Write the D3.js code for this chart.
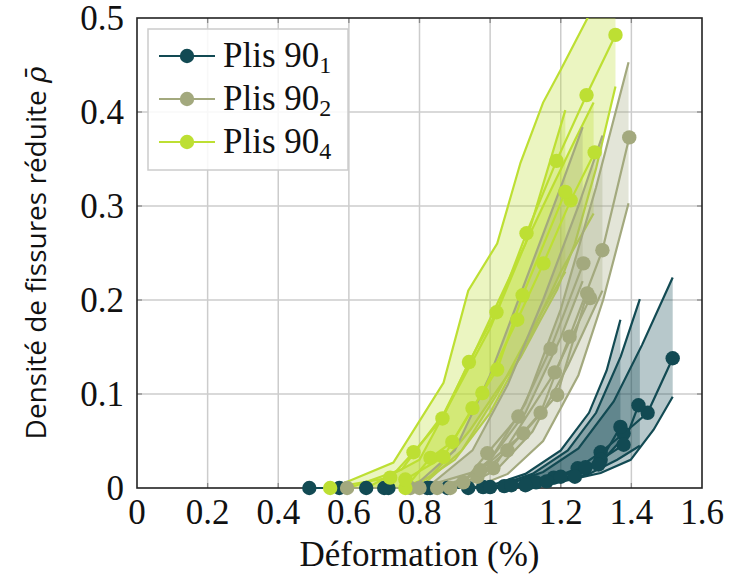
<!DOCTYPE html>
<html>
<head>
<meta charset="utf-8">
<script src="https://cdn.jsdelivr.net/npm/d3@7"></script>
<style>
  body { margin: 0; background: #fff; }
  text { fill: #111; }
</style>
</head>
<body>
<div class="chart"></div>
<script>
// ---- data (deformation %, reduced crack density) ----
var xTicks = [0, 0.2, 0.4, 0.6, 0.8, 1, 1.2, 1.4, 1.6];
var yTicks = [0, 0.1, 0.2, 0.3, 0.4, 0.5];
var legendNames = ["1", "2", "4"];   // Plis 90_n

// Plis 90_1 : envelopes (upper / lower) per specimen
var p1BandA_up = [[0.98,0],[1.1,0.015],[1.2,0.04],[1.28,0.08],[1.33,0.125],[1.369,0.179]];
var p1BandA_lo = [[1.0,0],[1.15,0.005],[1.25,0.015],[1.32,0.03],[1.369,0.05]];
var p1BandB_up = [[1.0,0],[1.12,0.015],[1.22,0.04],[1.3,0.08],[1.37,0.14],[1.424,0.201]];
var p1BandB_lo = [[1.02,0],[1.18,0.006],[1.28,0.015],[1.36,0.03],[1.424,0.045]];
var p1BandC_up = [[1.02,0],[1.15,0.017],[1.25,0.042],[1.35,0.092],[1.43,0.152],[1.517,0.224]];
var p1BandC_lo = [[1.05,0],[1.18,0.005],[1.313,0.016],[1.398,0.03],[1.463,0.062],[1.517,0.097]];
// Plis 90_1 : measured points
var p1Mes1 = [[0.488,0],[0.649,0],[0.822,0],[0.938,0],[1.04,0.002],[1.109,0.005],[1.18,0.011],[1.248,0.021],[1.313,0.038],[1.378,0.058],[1.446,0.080],[1.517,0.138]];
var p1Mes2 = [[0.573,0],[0.712,0],[0.879,0],[0.98,0.001],[1.06,0.003],[1.13,0.006],[1.2,0.012],[1.27,0.022],[1.313,0.03],[1.378,0.046],[1.42,0.088]];
var p1Mes3 = [[0.70,0],[0.83,0],[1.0,0.001],[1.1,0.003],[1.16,0.007],[1.24,0.012],[1.307,0.025],[1.369,0.065]];

// Plis 90_2
var p2BandA_up = [[0.78,0],[0.9,0.04],[1.0,0.12],[1.1,0.22],[1.2,0.32],[1.262,0.384]];
var p2BandA_lo = [[0.9,0],[1.0,0.03],[1.1,0.08],[1.2,0.16],[1.262,0.22]];
var p2BandB_up = [[0.82,0],[0.95,0.04],[1.05,0.11],[1.15,0.2],[1.25,0.3],[1.318,0.375]];
var p2BandB_lo = [[0.92,0],[1.02,0.02],[1.12,0.06],[1.22,0.13],[1.318,0.21]];
var p2BandC_up = [[0.9,0],[1.0,0.03],[1.1,0.09],[1.2,0.19],[1.3,0.32],[1.392,0.453]];
var p2BandC_lo = [[0.95,0],[1.05,0.015],[1.15,0.05],[1.25,0.12],[1.32,0.2],[1.392,0.303]];
var p2Mes1 = [[0.887,0],[0.964,0.012],[1.049,0.04],[1.143,0.08],[1.225,0.161],[1.318,0.253],[1.394,0.373]];
var p2Mes2 = [[0.595,0],[0.774,0],[0.924,0.006],[0.992,0.037],[1.08,0.076],[1.171,0.148],[1.264,0.239]];
var p2Mes3 = [[0.80,0],[0.972,0.019],[1.094,0.058],[1.19,0.099],[1.275,0.207]];
var p2Mes4 = [[0.85,0],[1.009,0.021],[1.183,0.123],[1.283,0.202]];

// Plis 90_4
var p4BandA_up = [[0.55,0],[0.604,0.008],[0.726,0.027],[0.868,0.112],[0.938,0.21],[1.02,0.26],[1.086,0.346],[1.15,0.41],[1.2,0.445],[1.276,0.5],[1.355,0.56]];
var p4BandA_lo = [[0.75,0],[0.83,0.012],[0.868,0.027],[0.944,0.062],[1.02,0.104],[1.086,0.139],[1.143,0.179],[1.19,0.211],[1.24,0.26],[1.3,0.34],[1.355,0.427]];
var p4BandB_up = [[0.6,0],[0.75,0.02],[0.87,0.08],[0.95,0.14],[1.05,0.22],[1.15,0.3],[1.24,0.37],[1.293,0.41]];
var p4BandB_lo = [[0.78,0],[0.9,0.03],[1.0,0.08],[1.1,0.15],[1.2,0.23],[1.293,0.292]];
var p4BandC_up = [[0.65,0],[0.8,0.03],[0.9,0.1],[1.0,0.17],[1.1,0.26],[1.213,0.402]];
var p4BandC_lo = [[0.8,0],[0.92,0.04],[1.02,0.1],[1.12,0.17],[1.213,0.23]];
var p4Mes1 = [[0.547,0],[0.717,0.011],[0.783,0.038],[0.865,0.074],[0.94,0.134],[1.018,0.187],[1.103,0.271],[1.188,0.348],[1.273,0.418],[1.355,0.482]];
var p4Mes2 = [[0.76,0],[0.831,0.032],[0.893,0.049],[0.978,0.101],[1.077,0.179],[1.151,0.239],[1.228,0.306],[1.296,0.357]];
var p4Mes3 = [[0.76,0.009],[0.868,0.033],[0.95,0.085],[1.02,0.126],[1.092,0.205],[1.213,0.315]];

var colors = {p1: "#124a53", p2: "#a3a97e", p4: "#bddf33"};

var groups = [
  {color: colors.p1, bands: [[p1BandA_up,p1BandA_lo],[p1BandB_up,p1BandB_lo],[p1BandC_up,p1BandC_lo]], mes: [p1Mes1,p1Mes2,p1Mes3]},
  {color: colors.p2, bands: [[p2BandA_up,p2BandA_lo],[p2BandB_up,p2BandB_lo],[p2BandC_up,p2BandC_lo]], mes: [p2Mes1,p2Mes2,p2Mes3,p2Mes4]},
  {color: colors.p4, bands: [[p4BandA_up,p4BandA_lo],[p4BandB_up,p4BandB_lo],[p4BandC_up,p4BandC_lo]], mes: [p4Mes1,p4Mes2,p4Mes3]}
];

// ---- layout ----
var width = 740, height = 579;
var margin = {top: 18, right: 38, bottom: 91, left: 137};

var svg = d3.select(".chart").append("svg")
    .attr("width", width)
    .attr("height", height);

var x = d3.scaleLinear().domain([0, 1.6]).range([margin.left, width - margin.right]);
var y = d3.scaleLinear().domain([0, 0.5]).range([height - margin.bottom, margin.top]);

var line = d3.line().x(function(d){ return x(d[0]); }).y(function(d){ return y(d[1]); });

// clip: top edge of the frame only matters (curves go past 0.5)
svg.append("clipPath").attr("id", "plotclip")
  .append("rect")
    .attr("x", x(0)).attr("y", y(0.5))
    .attr("width", x(1.6) - x(0)).attr("height", y(0) - y(0.5) + 3);

// grid
var grid = svg.append("g");
grid.selectAll(".gx").data(xTicks.slice(1, -1)).enter().append("line")
    .attr("x1", function(d){ return x(d); }).attr("x2", function(d){ return x(d); })
    .attr("y1", y(0)).attr("y2", y(0.5))
    .attr("stroke", "#cccccc").attr("stroke-width", 1.5);
grid.selectAll(".gy").data(yTicks.slice(1, -1)).enter().append("line")
    .attr("y1", function(d){ return y(d); }).attr("y2", function(d){ return y(d); })
    .attr("x1", x(0)).attr("x2", x(1.6))
    .attr("stroke", "#cccccc").attr("stroke-width", 1.5);

// small inner ticks
var tk = svg.append("g").attr("stroke", "#888").attr("stroke-width", 1.3);
xTicks.slice(1, -1).forEach(function(d){
  tk.append("line").attr("x1", x(d)).attr("x2", x(d)).attr("y1", y(0.5)).attr("y2", y(0.5) + 5);
  tk.append("line").attr("x1", x(d)).attr("x2", x(d)).attr("y1", y(0)).attr("y2", y(0) - 5);
});
yTicks.slice(1, -1).forEach(function(d){
  tk.append("line").attr("y1", y(d)).attr("y2", y(d)).attr("x1", x(0)).attr("x2", x(0) + 5);
  tk.append("line").attr("y1", y(d)).attr("y2", y(d)).attr("x1", x(1.6)).attr("x2", x(1.6) - 5);
});

// frame
svg.append("rect")
    .attr("x", x(0)).attr("y", y(0.5))
    .attr("width", x(1.6) - x(0)).attr("height", y(0) - y(0.5))
    .attr("fill", "none").attr("stroke", "#222").attr("stroke-width", 1.6);

var plot = svg.append("g").attr("clip-path", "url(#plotclip)");

// bands: fill between upper and lower envelope, both edges stroked
var order = [2, 1, 0];
order.forEach(function(gi){
  var g = groups[gi];
  g.bands.forEach(function(b){
    var poly = b[0].concat(b[1].slice().reverse());
    plot.append("path")
      .attr("d", line(poly) + "Z")
      .attr("fill", g.color).attr("fill-opacity", 0.3)
      .attr("stroke", "none");
    plot.append("path").attr("d", line(b[0]))
      .attr("fill", "none").attr("stroke", g.color).attr("stroke-width", 2.2);
    plot.append("path").attr("d", line(b[1]))
      .attr("fill", "none").attr("stroke", g.color).attr("stroke-width", 2.2);
  });
});

// measured curves with markers (markers are not clipped)
var marks = svg.append("g");
[0, 1, 2].forEach(function(gi){
  var g = groups[gi];
  g.mes.forEach(function(m){
    plot.append("path").attr("d", line(m))
      .attr("fill", "none").attr("stroke", g.color).attr("stroke-width", 2.2);
  });
  g.mes.forEach(function(m){
    marks.selectAll(null).data(m).enter().append("circle")
      .attr("cx", function(d){ return x(d[0]); })
      .attr("cy", function(d){ return y(d[1]); })
      .attr("r", 7.2)
      .attr("fill", g.color);
  });
});

// tick labels
svg.append("g").selectAll("text").data(xTicks).enter().append("text")
    .attr("x", function(d){ return x(d); })
    .attr("y", 524)
    .attr("text-anchor", "middle")
    .style("font-family", "'Liberation Serif', serif")
    .style("font-size", "35px")
    .text(function(d){ return d3.format("")(d); });

svg.append("g").selectAll("text").data(yTicks).enter().append("text")
    .attr("x", 124)
    .attr("y", function(d){ return y(d) + 12; })
    .attr("text-anchor", "end")
    .style("font-family", "'Liberation Serif', serif")
    .style("font-size", "35px")
    .text(function(d){ return d3.format("")(d); });

// axis titles
svg.append("text")
    .attr("x", (x(0) + x(1.6)) / 2)
    .attr("y", 566)
    .attr("text-anchor", "middle")
    .style("font-family", "'Liberation Serif', serif")
    .style("font-size", "35px")
    .text("Déformation (%)");

var yl = svg.append("text")
    .attr("transform", "translate(46," + 253 + ") rotate(-90)")
    .attr("text-anchor", "middle")
    .style("font-family", "'Open Sans', sans-serif")
    .style("font-size", "28px");
yl.append("tspan").text("Densité de fissures réduite ");
yl.append("tspan").style("font-family", "'DejaVu Serif', serif").style("font-style", "italic").text("ρ\u0304");

// legend
var leg = svg.append("g");
leg.append("rect")
    .attr("x", 148).attr("y", 29).attr("width", 200).attr("height", 141)
    .attr("fill", "#fff").attr("fill-opacity", 0.85)
    .attr("stroke", "#cccccc").attr("stroke-width", 1.5);
var legColors = [colors.p1, colors.p2, colors.p4];
legendNames.forEach(function(n, i){
  var ly = 56 + i * 43;
  leg.append("line").attr("x1", 159).attr("x2", 215).attr("y1", ly).attr("y2", ly)
    .attr("stroke", legColors[i]).attr("stroke-width", 2.2);
  leg.append("circle").attr("cx", 187).attr("cy", ly).attr("r", 7.2).attr("fill", legColors[i]);
  var t = leg.append("text").attr("x", 223).attr("y", ly + 11)
    .style("font-family", "'Liberation Serif', serif").style("font-size", "35px");
  t.append("tspan").text("Plis 90");
  t.append("tspan").attr("dy", 6).style("font-size", "24px").text(n);
});
</script>
</body>
</html>
